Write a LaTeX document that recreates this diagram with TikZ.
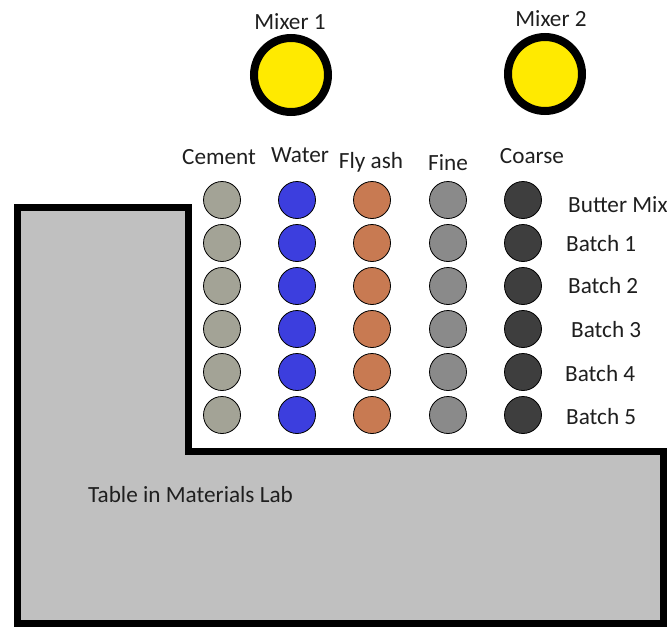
\documentclass[tikz,border=0pt]{standalone}
\usepackage{fontspec}
\setmainfont{Carlito}
\definecolor{tablegray}{RGB}{192,192,192}
\definecolor{mixeryellow}{RGB}{255,234,0}
\definecolor{cementc}{RGB}{163,163,150}
\definecolor{waterc}{RGB}{60,62,222}
\definecolor{flyashc}{RGB}{200,122,82}
\definecolor{finec}{RGB}{138,138,138}
\definecolor{coarsec}{RGB}{62,62,62}
\begin{document}
\begin{tikzpicture}[x=1pt,y=-1pt,
  lbl/.style={inner sep=0pt,font=\fontsize{23.2}{28}\selectfont,text=black!88},
  mixer/.style={circle,draw=black,line width=8pt,fill=mixeryellow,minimum size=74pt,inner sep=0pt},
  bin/.style={circle,draw=black,line width=0.8pt,minimum size=37pt,inner sep=0pt},
  tableedge/.style={draw=black,line width=7pt,fill=tablegray,miter limit=10}]
  \useasboundingbox (0,0) rectangle (667,627);

  % L-shaped lab table
  \draw[tableedge] (17.5,207.5) -- (188,207.5) -- (188,451.5) -- (663.5,451.5)
    -- (663.5,623.5) -- (17.5,623.5) -- cycle;
  \node[lbl,anchor=base west] (tablelbl) at (88,502) {Table in Materials Lab};

  % mixers
  \node[mixer] (mix1) at (291,75) {};
  \node[mixer] (mix2) at (545,74) {};
  \node[lbl,anchor=base] (mix1lbl) at (290,29) {Mixer 1};
  \node[lbl,anchor=base] (mix2lbl) at (551,26) {Mixer 2};

  % material column headers
  \node[lbl,anchor=base] (hcement) at (219,164) {Cement};
  \node[lbl,anchor=base] (hwater)  at (300,162) {Water};
  \node[lbl,anchor=base] (hflyash) at (371,168) {Fly ash};
  \node[lbl,anchor=base] (hfine)   at (448,170) {Fine};
  \node[lbl,anchor=base] (hcoarse) at (532,163) {Coarse};

  % material containers, one row per batch
  \foreach \y [count=\r] in {200,243,286,329,372,415} {
    \foreach \x/\c [count=\k] in {222/cementc,297/waterc,372/flyashc,448/finec,523/coarsec} {
      \node[bin,fill=\c] (b-\r-\k) at (\x,\y) {};
    }
  }

  % batch labels
  \node[lbl,anchor=base west] (r1) at (568,212) {Butter Mix};
  \node[lbl,anchor=base west] (r2) at (566,251) {Batch 1};
  \node[lbl,anchor=base west] (r3) at (568,293) {Batch 2};
  \node[lbl,anchor=base west] (r4) at (571,337) {Batch 3};
  \node[lbl,anchor=base west] (r5) at (565,381) {Batch 4};
  \node[lbl,anchor=base west] (r6) at (566,424) {Batch 5};
\end{tikzpicture}
\end{document}
